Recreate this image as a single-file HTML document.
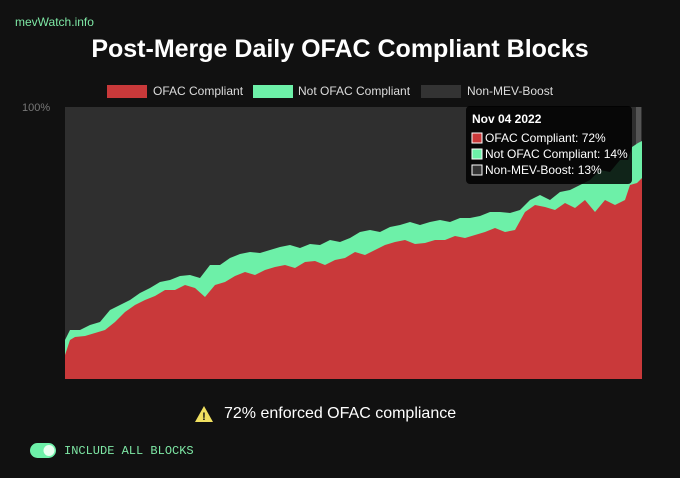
<!DOCTYPE html>
<html><head><style>
body{margin:0;width:680px;height:478px;background:#111111;font-family:"Liberation Sans",sans-serif;position:relative;overflow:hidden;color:#fff}
.a{position:absolute;white-space:nowrap}
</style></head><body>
<div class="a" style="left:15px;top:15px;font-size:12px;color:#7ee8a5">mevWatch.info</div>
<div class="a" style="left:0;width:660px;padding-left:10px;text-align:center;top:35px;font-size:25px;font-weight:bold;color:#fff">Post-Merge Daily OFAC Compliant Blocks</div>
<div class="a" style="left:107px;top:85px;width:40px;height:13px;background:#c9393a"></div>
<div class="a" style="left:153px;top:84px;font-size:12px;color:#ddd">OFAC Compliant</div>
<div class="a" style="left:253px;top:85px;width:40px;height:13px;background:#6df0a8"></div>
<div class="a" style="left:298px;top:84px;font-size:12px;color:#ddd">Not OFAC Compliant</div>
<div class="a" style="left:421px;top:85px;width:40px;height:13px;background:#333"></div>
<div class="a" style="left:467px;top:84px;font-size:12px;color:#ddd">Non-MEV-Boost</div>
<div class="a" style="left:22px;top:102px;font-size:11px;color:#777">100%</div>
<svg class="a" style="left:0;top:0" width="680" height="478">
<rect x="65" y="107" width="577" height="272" fill="#2f2f2f"/>
<rect x="636" y="107" width="5" height="40" fill="#555"/>
<polygon fill="#6df0a8" points="65,340 70,330 80,330 90,325 100,322 110,310 120,305 130,300 140,293 150,288 160,282 170,280 180,276 190,275 200,278 210,265 220,265 230,258 240,254 250,252 260,253 270,250 280,247 290,245 300,248 310,244 320,245 330,240 340,242 350,238 360,232 370,230 380,232 390,227 400,225 410,222 420,225 430,222 440,220 450,222 460,218 470,218 480,216 490,212 500,212 510,213 520,210 530,200 540,195 550,200 560,192 570,190 580,185 590,180 600,170 610,172 620,160 628,160 632,147 638,143 642,141 642,379 65,379"/>
<polygon fill="#c9393a" points="65,355 70,340 75,337 85,336 95,333 105,330 115,322 125,312 135,305 145,300 155,296 165,290 175,290 185,285 195,288 205,297 215,285 225,282 235,276 245,272 255,275 265,270 275,267 285,265 295,268 305,262 315,261 325,265 335,260 345,258 355,252 365,255 375,250 385,245 395,242 405,240 415,244 425,243 435,240 445,240 455,236 465,238 475,235 485,232 495,228 505,232 515,230 525,212 535,205 545,207 555,210 565,203 575,208 585,200 595,212 605,200 615,205 625,200 630,185 637,183 642,178 642,379 65,379"/>
<rect x="466" y="106" width="166" height="78" rx="4" fill="#000" fill-opacity="0.85"/>
<rect x="472" y="133" width="10" height="10" fill="#c9393a" stroke="#fff" stroke-width="1"/>
<rect x="472" y="149" width="10" height="10" fill="#6df0a8" stroke="#fff" stroke-width="1"/>
<rect x="472" y="165" width="10" height="10" fill="#333" stroke="#fff" stroke-width="1"/>
<text x="472" y="123" font-size="12" font-weight="bold" fill="#fff" font-family="Liberation Sans">Nov 04 2022</text>
<text x="485" y="142" font-size="12" fill="#fff" font-family="Liberation Sans">OFAC Compliant: 72%</text>
<text x="485" y="158" font-size="12" fill="#fff" font-family="Liberation Sans">Not OFAC Compliant: 14%</text>
<text x="485" y="174" font-size="12" fill="#fff" font-family="Liberation Sans">Non-MEV-Boost: 13%</text>
<polygon points="204,406 195,422 213,422" fill="#f0e060"/>
<text x="204" y="420" font-size="11" font-weight="bold" text-anchor="middle" fill="#111">!</text>
<rect x="30" y="443" width="26" height="15" rx="7.5" fill="#6df0a8"/>
<circle cx="49" cy="450.5" r="5.5" fill="#e8fff0"/>
</svg>
<div class="a" style="left:224px;top:405px;font-size:16px;color:#fff">72% enforced OFAC compliance</div>
<div class="a" style="left:64px;top:444px;font-size:12px;color:#7ee8a5;font-family:'Liberation Mono',monospace">INCLUDE ALL BLOCKS</div>
</body></html>
